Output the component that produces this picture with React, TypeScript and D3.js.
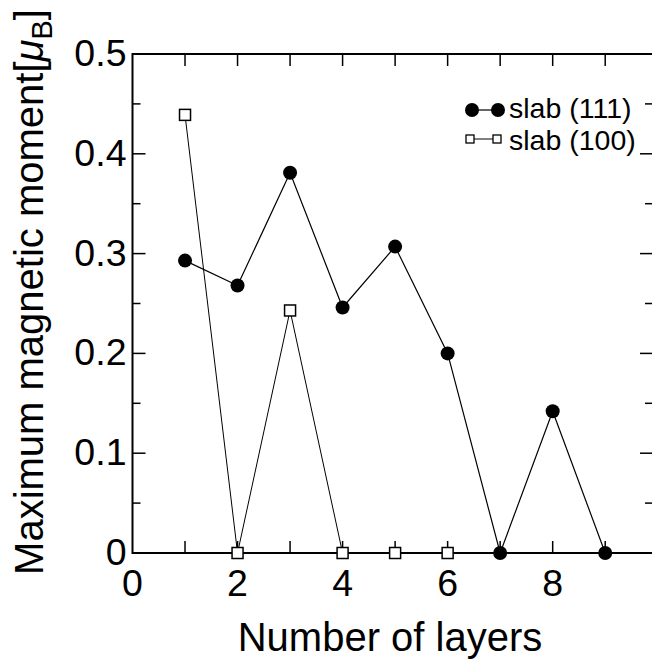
import React from "react";
import * as d3 from "d3";

const layers111 = [1, 2, 3, 4, 5, 6, 7, 8, 9];
const moment111 = [0.293, 0.268, 0.381, 0.246, 0.307, 0.2, 0, 0.142, 0];
const layers100 = [1, 2, 3, 4, 5, 6];
const moment100 = [0.439, 0, 0.243, 0, 0, 0];
const xTicks = [0, 2, 4, 6, 8];
const yTicks = [0, 0.1, 0.2, 0.3, 0.4, 0.5];
const yTickLabels = ["0", "0.1", "0.2", "0.3", "0.4", "0.5"];

const W = 652, H = 664;
const L = 132.5, R = 653, T = 54, B = 553;

export default function App() {
  const x = d3.scaleLinear().domain([0, 9.91]).range([L, R]);
  const y = d3.scaleLinear().domain([0, 0.5]).range([B, T]);
  const mk = d3.line<[number, number]>().x(d => x(d[0])).y(d => y(d[1]));
  const path111 = mk(layers111.map((l, i) => [l, moment111[i]]));
  const path100 = mk(layers100.map((l, i) => [l, moment100[i]]));
  const xMinor = d3.range(1, 10, 1);
  const yMinor = d3.range(0.05, 0.5, 0.1);
  const font = "'Liberation Sans', Arial, sans-serif";
  return (
    <svg width={W} height={H} style={{ position: "fixed", left: 0, top: 0, background: "#fff" }} fontFamily={font}>
      <rect x={0} y={0} width={W} height={H} fill="#fff" />
      <rect x={L} y={T} width={R - L} height={B - T} fill="none" stroke="#000" strokeWidth={2} />
      {xMinor.map(v => {
        const len = 12;
        return (
          <g key={"xt" + v}>
            <line x1={x(v)} x2={x(v)} y1={B} y2={B - len} stroke="#000" strokeWidth={1.5} />
            <line x1={x(v)} x2={x(v)} y1={T} y2={T + len} stroke="#000" strokeWidth={1.5} />
          </g>
        );
      })}
      {yTicks.concat(yMinor).map((v, i) => {
        const major = i < yTicks.length;
        const len = major ? 13 : 8;
        return (
          <g key={"yt" + i}>
            <line x1={L} x2={L + len} y1={y(v)} y2={y(v)} stroke="#000" strokeWidth={1.5} />
            <line x1={R} x2={R - len} y1={y(v)} y2={y(v)} stroke="#000" strokeWidth={1.5} />
          </g>
        );
      })}
      {yTicks.map((v, i) => (
        <text key={"yl" + i} x={L - 6} y={y(v) + 12} textAnchor="end" fontSize={37.5}>
          {yTickLabels[i]}
        </text>
      ))}
      {xTicks.map(v => (
        <text key={"xl" + v} x={x(v)} y={B + 43} textAnchor="middle" fontSize={37.5}>
          {v}
        </text>
      ))}
      <text x={390} y={651} textAnchor="middle" fontSize={40}>Number of layers</text>
      <text transform="translate(43,292) rotate(-90)" textAnchor="middle" fontSize={40}>
        Maximum magnetic moment[<tspan fontStyle="italic">μ</tspan>
        <tspan fontSize={29} dy={9}>B</tspan>
        <tspan dy={-9}>]</tspan>
      </text>
      <path d={path111 || ""} fill="none" stroke="#000" strokeWidth={1.2} />
      <path d={path100 || ""} fill="none" stroke="#000" strokeWidth={1} />
      {layers111.map((l, i) => (
        <circle key={"c" + i} cx={x(l)} cy={y(moment111[i])} r={7} fill="#000" />
      ))}
      {layers100.map((l, i) => (
        <rect key={"s" + i} x={x(l) - 5.5} y={y(moment100[i]) - 5.5} width={11} height={11} fill="#fff" stroke="#000" strokeWidth={1.5} />
      ))}
      <line x1={472} x2={498} y1={110} y2={110} stroke="#000" strokeWidth={1.2} />
      <circle cx={472} cy={110} r={7} fill="#000" />
      <circle cx={498} cy={110} r={7} fill="#000" />
      <text x={509} y={118} fontSize={28.5}>slab (111)</text>
      <line x1={470} x2={497} y1={139} y2={139} stroke="#000" strokeWidth={1} />
      <rect x={466} y={135} width={8} height={8} fill="#fff" stroke="#000" strokeWidth={1.3} />
      <rect x={493} y={135} width={8} height={8} fill="#fff" stroke="#000" strokeWidth={1.3} />
      <text x={509} y={150} fontSize={28.5}>slab (100)</text>
    </svg>
  );
}
